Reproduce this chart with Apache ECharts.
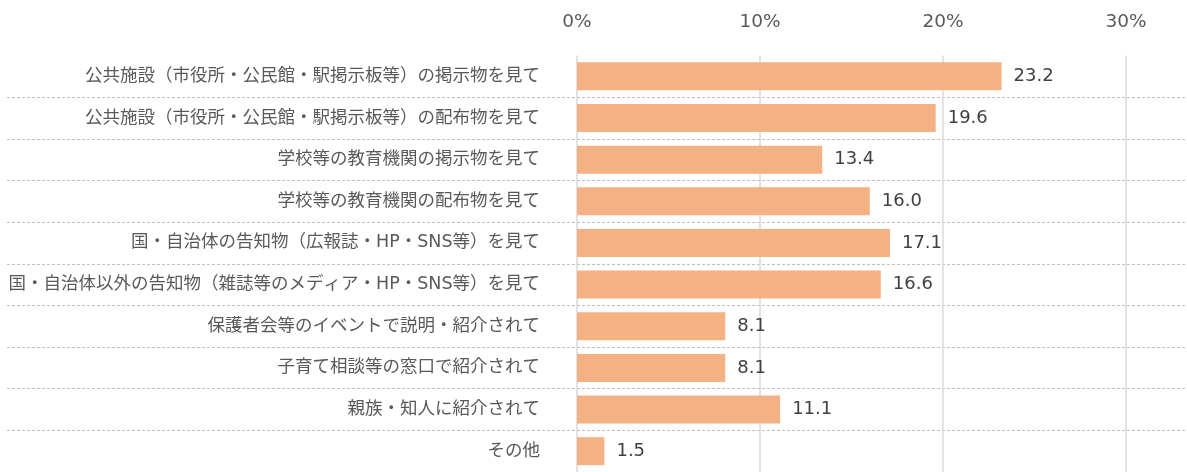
<!DOCTYPE html>
<html>
<head>
<meta charset="utf-8">
<script src="https://cdn.jsdelivr.net/npm/echarts@6/dist/echarts.min.js"></script>
<style>
  html, body { margin: 0; padding: 0; background: #fff; }
  #main { width: 1187px; height: 472px; }
</style>
</head>
<body>
<div id="main"></div>
<script>
// 項目（上から順）
const categories = [
    "公共施設（市役所・公民館・駅掲示板等）の掲示物を見て",
    "公共施設（市役所・公民館・駅掲示板等）の配布物を見て",
    "学校等の教育機関の掲示物を見て",
    "学校等の教育機関の配布物を見て",
    "国・自治体の告知物（広報誌・HP・SNS等）を見て",
    "国・自治体以外の告知物（雑誌等のメディア・HP・SNS等）を見て",
    "保護者会等のイベントで説明・紹介されて",
    "子育て相談等の窓口で紹介されて",
    "親族・知人に紹介されて",
    "その他"
];
const values = [23.2, 19.6, 13.4, 16.0, 17.1, 16.6, 8.1, 8.1, 11.1, 1.5];
const xTicks = [0, 10, 20, 30];

const font = '"DejaVu Sans", "Noto Sans CJK JP", sans-serif';

var myChart = echarts.init(document.getElementById("main"));
var option = {
    animation: false,
    grid: [
        // 区切り線用（全幅）
        { left: 7, right: 0, top: 55.5, bottom: 0 },
        // グラフ本体
        { left: 577, right: 61, top: 55.5, bottom: 0 }
    ],
    xAxis: [
        { gridIndex: 0, type: "value", min: 0, max: 1, show: false },
        {
            gridIndex: 1,
            type: "value",
            position: "top",
            min: xTicks[0],
            max: xTicks[xTicks.length - 1],
            interval: 10,
            axisLine: { show: false },
            axisTick: { show: false },
            axisLabel: {
                formatter: "{value}%",
                color: "#595959",
                fontSize: 18.5,
                fontFamily: font,
                margin: 24
            },
            splitLine: { lineStyle: { color: "#d9d9d9", width: 1.5 } }
        }
    ],
    yAxis: [
        {
            gridIndex: 0,
            type: "category",
            data: categories,
            inverse: true,
            axisLine: { show: false },
            axisTick: { show: false },
            axisLabel: { show: false },
            splitLine: {
                show: true,
                showMinLine: false,
                showMaxLine: false,
                lineStyle: { color: "#bfbfbf", type: [3, 2], width: 1 }
            }
        },
        {
            gridIndex: 1,
            type: "category",
            data: categories,
            inverse: true,
            axisLine: { show: false },
            axisTick: { show: false },
            splitLine: { show: false },
            axisLabel: {
                color: "#595959",
                fontSize: 17.5,
                fontFamily: font,
                margin: 37
            }
        }
    ],
    series: [
        {
            type: "bar",
            xAxisIndex: 1,
            yAxisIndex: 1,
            data: values,
            barWidth: 28,
            itemStyle: { color: "#f4b183" },
            label: {
                show: true,
                position: "right",
                distance: 12,
                color: "#404040",
                fontSize: 18,
                fontFamily: font,
                formatter: (p) => p.value.toFixed(1)
            }
        }
    ]
};
myChart.setOption(option);
</script>
</body>
</html>
